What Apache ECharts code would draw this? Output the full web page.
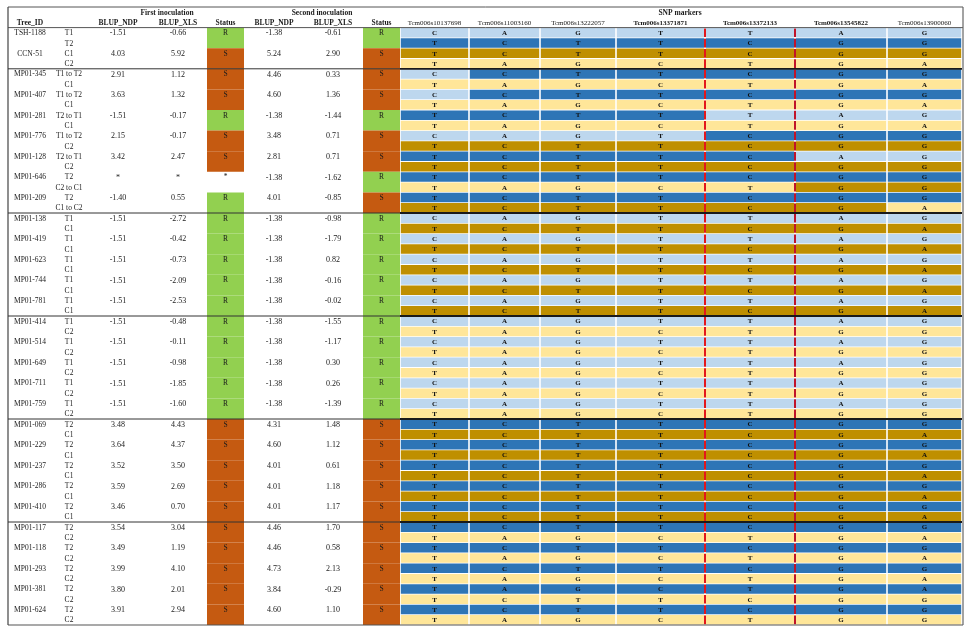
<!DOCTYPE html>
<html>
<head>
<meta charset="utf-8">
<title>SNP markers</title>
<script src="https://cdn.jsdelivr.net/npm/echarts/dist/echarts.min.js"></script>
<style>
	html, body { margin: 0; padding: 0; background: #fff; }
	#chart-1 { width: 964px; height: 630px; }
</style>
</head>
<body>
<div id="chart-1"></div>
<script>
var treeIds = ['TSH-1188', 'CCN-51', 'MP01-345', 'MP01-407', 'MP01-281', 'MP01-776', 'MP01-128', 'MP01-646', 'MP01-209',
	'MP01-138', 'MP01-419', 'MP01-623', 'MP01-744', 'MP01-781',
	'MP01-414', 'MP01-514', 'MP01-649', 'MP01-711', 'MP01-759',
	'MP01-069', 'MP01-229', 'MP01-237', 'MP01-286', 'MP01-410',
	'MP01-117', 'MP01-118', 'MP01-293', 'MP01-381', 'MP01-624'];

var rowLabels = ['T1', 'T2', 'C1', 'C2',
	'T1 to T2', 'C1', 'T1 to T2', 'C1', 'T2 to T1', 'C1', 'T1 to T2', 'C2', 'T2 to T1', 'C2', 'T2', 'C2 to C1', 'T2', 'C1 to C2',
	'T1', 'C1', 'T1', 'C1', 'T1', 'C1', 'T1', 'C1', 'T1', 'C1',
	'T1', 'C2', 'T1', 'C2', 'T1', 'C2', 'T1', 'C2', 'T1', 'C2',
	'T2', 'C1', 'T2', 'C1', 'T2', 'C1', 'T2', 'C1', 'T2', 'C1',
	'T2', 'C2', 'T2', 'C2', 'T2', 'C2', 'T2', 'C2', 'T2', 'C2'];

// first inoculation (null = not scored)
var ndp1 = [-1.51, 4.03, 2.91, 3.63, -1.51, 2.15, 3.42, null, -1.40, -1.51, -1.51, -1.51, -1.51, -1.51,
	-1.51, -1.51, -1.51, -1.51, -1.51, 3.48, 3.64, 3.52, 3.59, 3.46, 3.54, 3.49, 3.99, 3.80, 3.91];
var xls1 = [-0.66, 5.92, 1.12, 1.32, -0.17, -0.17, 2.47, null, 0.55, -2.72, -0.42, -0.73, -2.09, -2.53,
	-0.48, -0.11, -0.98, -1.85, -1.60, 4.43, 4.37, 3.50, 2.69, 0.70, 3.04, 1.19, 4.10, 2.01, 2.94];
var status1 = ['R', 'S', 'S', 'S', 'R', 'S', 'S', '*', 'R', 'R', 'R', 'R', 'R', 'R',
	'R', 'R', 'R', 'R', 'R', 'S', 'S', 'S', 'S', 'S', 'S', 'S', 'S', 'S', 'S'];

// second inoculation
var ndp2 = [-1.38, 5.24, 4.46, 4.60, -1.38, 3.48, 2.81, -1.38, 4.01, -1.38, -1.38, -1.38, -1.38, -1.38,
	-1.38, -1.38, -1.38, -1.38, -1.38, 4.31, 4.60, 4.01, 4.01, 4.01, 4.46, 4.46, 4.73, 3.84, 4.60];
var xls2 = [-0.61, 2.90, 0.33, 1.36, -1.44, 0.71, 0.71, -1.62, -0.85, -0.98, -1.79, 0.82, -0.16, -0.02,
	-1.55, -1.17, 0.30, 0.26, -1.39, 1.48, 1.12, 0.61, 1.18, 1.17, 1.70, 0.58, 2.13, -0.29, 1.10];
var status2 = ['R', 'S', 'S', 'S', 'R', 'S', 'S', 'R', 'S', 'R', 'R', 'R', 'R', 'R',
	'R', 'R', 'R', 'R', 'R', 'S', 'S', 'S', 'S', 'S', 'S', 'S', 'S', 'S', 'S'];

var markers = ['Tcm006s10137698', 'Tcm006s11003160', 'Tcm006s13222057', 'Tcm006s13371871',
	'Tcm006s13372133', 'Tcm006s13545822', 'Tcm006s13900060'];

// alleles per row, one letter per marker
var alleles = ['CAGTTAG', 'TCTTCGG', 'TCTTCGG', 'TAGCTGA',
	'CCTTCGG', 'TAGCTGA', 'CCTTCGG', 'TAGCTGA', 'TCTTTAG', 'TAGCTGA', 'CAGTCGG', 'TCTTCGG', 'TCTTCAG', 'TCTTCGG',
	'TCTTCGG', 'TAGCTGG', 'TCTTCGG', 'TCTTCGA',
	'CAGTTAG', 'TCTTCGA', 'CAGTTAG', 'TCTTCGA', 'CAGTTAG', 'TCTTCGA', 'CAGTTAG', 'TCTTCGA', 'CAGTTAG', 'TCTTCGA',
	'CAGTTAG', 'TAGCTGG', 'CAGTTAG', 'TAGCTGG', 'CAGTTAG', 'TAGCTGG', 'CAGTTAG', 'TAGCTGG', 'CAGTTAG', 'TAGCTGG',
	'TCTTCGG', 'TCTTCGA', 'TCTTCGG', 'TCTTCGA', 'TCTTCGG', 'TCTTCGA', 'TCTTCGG', 'TCTTCGA', 'TCTTCGG', 'TCTTCGA',
	'TCTTCGG', 'TAGCTGA', 'TCTTCGG', 'TAGCTGA', 'TCTTCGG', 'TAGCTGA', 'TAGCTGA', 'TCTTCGG', 'TCTTCGG', 'TAGCTGG'];

// parental origin per allele: 1 = T1, 2 = T2, 3 = C1, 4 = C2
var origin = ['1111111', '2222222', '3333333', '4444444',
	'1222222', '4444444', '1222222', '4444444', '2222111', '4444444', '1111222', '3333333', '2222211', '3333333',
	'2222222', '4444433', '2222222', '3333334',
	'1111111', '3333333', '1111111', '3333333', '1111111', '3333333', '1111111', '3333333', '1111111', '3333333',
	'1111111', '4444444', '1111111', '4444444', '1111111', '4444444', '1111111', '4444444', '1111111', '4444444',
	'2222222', '3333333', '2222222', '3333333', '2222222', '3333333', '2222222', '3333333', '2222222', '3333333',
	'2222222', '4444444', '2222222', '4444444', '2222222', '4444444', '2222222', '4444444', '2222222', '4444444'];

var groupEnds = [4, 18, 28, 38, 48]; // data rows after which a heavy rule is drawn

// ---- layout ----
var HEAD = 2;
var FONT = '"Liberation Serif", "Times New Roman", serif';
var originColor = { 1: '#bdd7ee', 2: '#2e75b6', 3: '#bf8f00', 4: '#ffe699' };
var statusColor = { R: '#92d050', S: '#c55a11' };
var snpEdges = [400, 469, 540, 616, 705, 795, 887, 962];
var colX = { id: 30, lab: 69, ndp1: 118, xls1: 178, st1: 225.5, ndp2: 274, xls2: 333, st2: 381.5 };
var statusSpan = { st1: [207, 244], st2: [363, 400] };

function fmt(v) {
	return v == null ? '*' : v.toFixed(2);
}

var rowKeys = [];
for (var i = 0; i < HEAD + rowLabels.length; i++) rowKeys.push('r' + i);

// text cells
var texts = [];
function addText(x, row, text, size, bold) {
	texts.push({ x: x, row: row, text: text, size: size || 7.5, bold: !!bold });
}
addText(167, 0, 'First inoculation', 7.5, true);
addText(322, 0, 'Second inoculation', 7.5, true);
addText(680, 0, 'SNP markers', 7.5, true);
addText(colX.id, 1, 'Tree_ID', 7.5, true);
addText(colX.ndp1, 1, 'BLUP_NDP', 7.5, true);
addText(colX.xls1, 1, 'BLUP_XLS', 7.5, true);
addText(colX.st1, 1, 'Status', 7.5, true);
addText(colX.ndp2, 1, 'BLUP_NDP', 7.5, true);
addText(colX.xls2, 1, 'BLUP_XLS', 7.5, true);
addText(colX.st2, 1, 'Status', 7.5, true);
markers.forEach(function (m, c) {
	addText((snpEdges[c] + snpEdges[c + 1]) / 2, 1, m, 7, c >= 3 && c <= 5);
});
rowLabels.forEach(function (l, r) {
	addText(colX.lab, HEAD + r, l, 7.5);
});
treeIds.forEach(function (t, k) {
	var row = HEAD + 2 * k;
	addText(colX.id, row, t, 7.5);
	addText(colX.ndp1, row, fmt(ndp1[k]), 8);
	addText(colX.xls1, row, fmt(xls1[k]), 8);
	addText(colX.st1, row, status1[k], 7.5);
	addText(colX.ndp2, row, fmt(ndp2[k]), 8);
	addText(colX.xls2, row, fmt(xls2[k]), 8);
	addText(colX.st2, row, status2[k], 7.5);
});

// status cells, two rows per tree
var statusCells = [];
treeIds.forEach(function (t, k) {
	if (statusColor[status1[k]]) statusCells.push({ span: statusSpan.st1, row: HEAD + 2 * k, fill: statusColor[status1[k]] });
	if (statusColor[status2[k]]) statusCells.push({ span: statusSpan.st2, row: HEAD + 2 * k, fill: statusColor[status2[k]] });
});

// snp cells
var snpCells = [];
alleles.forEach(function (a, r) {
	for (var c = 0; c < markers.length; c++) {
		snpCells.push({ col: c, row: HEAD + r, text: a.charAt(c), fill: originColor[origin[r].charAt(c)] });
	}
});

// red split lines
var splits = [];
alleles.forEach(function (a, r) {
	splits.push({ x: snpEdges[4], row: HEAD + r, color: '#e3171c' });
	splits.push({ x: snpEdges[5], row: HEAD + r, color: '#c0142a' });
});

// rules (boundary index counted in category rows)
var rules = [
	{ b: 0, x0: 8, x1: 963, w: 1, color: '#555' },
	{ b: HEAD, x0: 8, x1: 963, w: 1, color: '#555' },
	{ b: HEAD + rowLabels.length, x0: 8, x1: 963, w: 1.2, color: '#555' },
	{ v: 8, b0: 0, b1: HEAD + rowLabels.length, w: 1.2, color: '#444' },
	{ v: 963, b0: 0, b1: HEAD + rowLabels.length, w: 1.2, color: '#666' }
];
groupEnds.forEach(function (g) {
	rules.push({ b: HEAD + g, x0: 8, x1: 400, w: 1, color: '#333' });
	rules.push({ b: HEAD + g, x0: 400, x1: 962, w: 1.8, color: '#1a1a1a' });
});

function boundaryY(api, b) {
	var h = api.size([0, 1])[1];
	return api.coord([0, 0])[1] - h / 2 + b * h;
}

function renderStatus(params, api) {
	var s = statusCells[params.dataIndex];
	var h = api.size([0, 1])[1];
	var a = api.coord([s.span[0], s.row]);
	var b = api.coord([s.span[1], s.row]);
	return {
		type: 'rect',
		shape: { x: a[0], y: a[1] - h / 2, width: b[0] - a[0], height: 2 * h },
		style: { fill: s.fill }
	};
}

function renderSnp(params, api) {
	var s = snpCells[params.dataIndex];
	var h = api.size([0, 1])[1];
	var a = api.coord([snpEdges[s.col], s.row]);
	var b = api.coord([snpEdges[s.col + 1], s.row]);
	return {
		type: 'group',
		children: [{
			type: 'rect',
			shape: { x: a[0] + 0.8, y: a[1] - h / 2 + 0.4, width: b[0] - a[0] - 1.6, height: h - 0.8 },
			style: { fill: s.fill }
		}, {
			type: 'text',
			style: {
				text: s.text, x: (a[0] + b[0]) / 2, y: a[1] + 0.5, align: 'center', verticalAlign: 'middle',
				fontSize: 7, fontWeight: 'bold', fontFamily: FONT, fill: '#111'
			}
		}]
	};
}

function renderSplit(params, api) {
	var s = splits[params.dataIndex];
	var h = api.size([0, 1])[1];
	var p = api.coord([s.x, s.row]);
	return {
		type: 'line',
		shape: { x1: p[0], y1: p[1] - h / 2 + 0.8, x2: p[0], y2: p[1] + h / 2 - 0.8 },
		style: { stroke: s.color, lineWidth: 2 }
	};
}

function renderRule(params, api) {
	var r = rules[params.dataIndex];
	if (r.v != null) {
		var x = api.coord([r.v, 0])[0];
		return {
			type: 'line',
			shape: { x1: x, y1: boundaryY(api, r.b0), x2: x, y2: boundaryY(api, r.b1) },
			style: { stroke: r.color, lineWidth: r.w }
		};
	}
	var y = boundaryY(api, r.b);
	return {
		type: 'line',
		shape: { x1: api.coord([r.x0, 0])[0], y1: y, x2: api.coord([r.x1, 0])[0], y2: y },
		style: { stroke: r.color, lineWidth: r.w }
	};
}

function renderText(params, api) {
	var t = texts[params.dataIndex];
	var p = api.coord([t.x, t.row]);
	return {
		type: 'text',
		style: {
			text: t.text, x: p[0], y: p[1] + 0.5, align: 'center', verticalAlign: 'middle',
			fontSize: t.size, fontWeight: t.bold ? 'bold' : 'normal', fontFamily: FONT, fill: '#1a1a1a'
		}
	};
}

var myChart = echarts.init(document.getElementById('chart-1'));

var option = {
	animation: false,
	grid: { left: 0, right: 0, top: 7, bottom: 5 },
	xAxis: { type: 'value', min: 0, max: 964, show: false },
	yAxis: { type: 'category', data: rowKeys, inverse: true, show: false },
	series: [{
		type: 'custom', name: 'status', z: 1, renderItem: renderStatus,
		data: statusCells.map(function (s) { return [s.span[0], s.row]; })
	}, {
		type: 'custom', name: 'snp', z: 2, renderItem: renderSnp,
		data: snpCells.map(function (s) { return [snpEdges[s.col], s.row]; })
	}, {
		type: 'custom', name: 'split', z: 3, renderItem: renderSplit,
		data: splits.map(function (s) { return [s.x, s.row]; })
	}, {
		type: 'custom', name: 'rules', z: 4, renderItem: renderRule,
		data: rules.map(function (r) { return [r.v != null ? r.v : r.x0, r.b != null ? r.b : r.b0]; })
	}, {
		type: 'custom', name: 'text', z: 5, renderItem: renderText,
		data: texts.map(function (t) { return [t.x, t.row]; })
	}]
};

myChart.setOption(option);
</script>
</body>
</html>
